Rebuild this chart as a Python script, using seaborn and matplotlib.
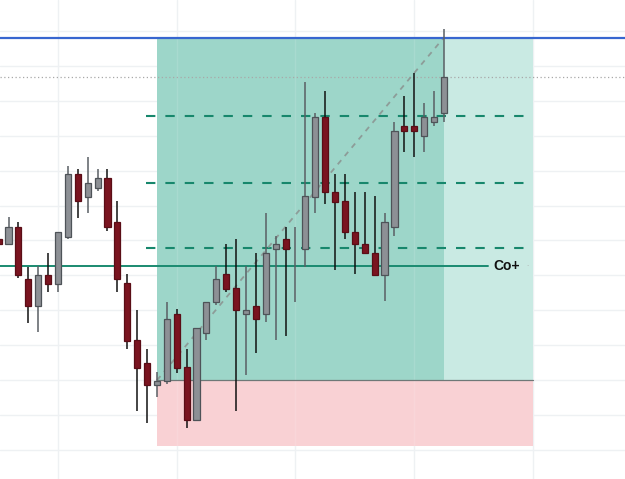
import matplotlib
matplotlib.use("Agg")
import matplotlib.pyplot as plt
import numpy as np
import pandas as pd
import seaborn as sns

# ---- data (price units) ----
idx = list(range(-1, 45))
opens = [240.7, 235.7, 252.7, 200.7, 174.3, 205, 196, 243.3, 306, 283.3,
         292.3, 301.7, 257.7, 196.7, 140, 117.3, 95, 99.3, 165.7, 112.7,
         60, 147.3, 178.3, 205.7, 191.7, 165.7, 174.3, 165.7, 231, 240.7,
         240, 231, 283.3, 362.7, 287.7, 279, 248.3, 236.3, 227.3, 205,
         252.7, 354, 354, 344.3, 358.3, 367.3]
closes = [235.7, 252.7, 205, 174.3, 205, 196, 248.3, 306, 279, 296.7,
          301.7, 252.7, 200.7, 139.3, 112.3, 95, 99.3, 161, 112.3, 60,
          152.3, 178.3, 200.7, 191, 170, 170, 160.7, 226.7, 236, 231,
          240, 284, 362.7, 287.7, 278.3, 248.3, 235.7, 226.7, 205, 257.7,
          349.3, 349, 349, 362.7, 362.7, 402.7]
highs = [244, 262.7, 257.7, 213.3, 214, 226.7, 248.3, 314.3, 311, 323.3,
         311, 311, 279.3, 205.7, 170, 130.7, 108.3, 178.3, 170.7, 130.7,
         152.3, 178.3, 214, 236, 240.7, 214, 226.7, 266.7, 244.3, 253.3,
         253.3, 398.3, 367.3, 389.3, 306, 306, 288.3, 288.3, 284, 266.7,
         358.3, 384.3, 407.3, 376.7, 389.3, 450.7]
lows = [233, 235.7, 201.7, 157.3, 148.3, 187.7, 187.7, 240.7, 262.3, 266.7,
        289, 249, 187.7, 131, 69.3, 56.7, 82.7, 96, 106.7, 51.7,
        60, 140, 175, 187.7, 69.3, 105, 126.7, 157.7, 140, 144.3,
        178.3, 213.3, 266.7, 275.7, 210, 240.7, 206, 226.7, 205, 179,
        244.3, 328.3, 323.3, 328.3, 354, 358.3]

blue_level = 442.5
dotted_level = 402.7
target_levels = [364.5, 297.5, 232.2]
entry_level = 213.7
stop_split = 99.7
stop_level = 34.0
label_text = "Co+"

df = pd.DataFrame({"i": idx, "open": opens, "close": closes,
                   "high": highs, "low": lows})

# ---- figure ----
sns.set_theme(style="white")
fig = plt.figure(figsize=(6.25, 4.79), dpi=100)
ax = fig.add_axes([0, 0, 1, 1])
ax.set_xlim(-0.861, 62.30)
ax.set_ylim(1, 480)
for s in ax.spines.values():
    s.set_visible(False)

grid_c = "#eef1f3"
for gx in [5, 17, 29, 41, 53]:
    ax.axvline(gx, color=grid_c, lw=1, zorder=0.5)
for k in range(13):
    ax.axhline(480 - (31 + 34.9 * k), color=grid_c, lw=1, zorder=0.5)

# position boxes
x0, xm, x1 = 15, 44, 53
ax.add_patch(plt.Rectangle((x0, stop_split), xm - x0, blue_level - stop_split,
                           facecolor="#9dd6c9", edgecolor="none", zorder=1))
ax.add_patch(plt.Rectangle((xm, stop_split), x1 - xm, blue_level - stop_split,
                           facecolor="#c9eae3", edgecolor="none", zorder=1))
ax.add_patch(plt.Rectangle((x0, stop_level), x1 - x0, stop_split - stop_level,
                           facecolor="#f9d1d4", edgecolor="none", zorder=1))
for gx in [17, 29, 41]:
    ax.plot([gx, gx], [stop_level, blue_level], color="white", alpha=0.12,
            lw=1, zorder=1.1)
ax.plot([x0, x1], [stop_split, stop_split], color="#6f7877", lw=0.9, zorder=2)

# levels
ax.axhline(blue_level, color="#3766cf", lw=1.6, zorder=3)
ax.axhline(dotted_level, color="#a8a8a8", lw=0.9, ls=(0, (1, 2)), zorder=2)
for lv in target_levels:
    ax.plot([13.9, x1], [lv, lv], color="#17876c", lw=1.5,
            ls=(0, (4.5, 4.8)), zorder=2)
ax.plot([-1, 48.45], [entry_level, entry_level], color="#1a8a70", lw=1.4,
        zorder=2)
ax.text(48.95, entry_level, label_text, fontsize=10, fontweight="bold",
        color="#111111", va="center", ha="left", zorder=5,
        family="Liberation Sans")
ax.text(52.4, entry_level, "·", fontsize=5, color="#aaaaaa", va="center",
        ha="center", zorder=5)

# diagonal trend line
diag = pd.DataFrame({"x": [x0, xm], "y": [stop_split, blue_level]})
sns.lineplot(data=diag, x="x", y="y", ax=ax, color="#8d9c98", lw=1.3,
             zorder=2)
ax.lines[-1].set_linestyle((0, (3, 3)))
ax.set_xlabel("")
ax.set_ylabel("")
ax.set_xticks([])
ax.set_yticks([])

# candles
up = df["close"] >= df["open"]
gray_body, gray_edge, gray_wick = "#8d9095", "#4e5358", "#5a5f64"
red_body, red_edge, red_wick = "#7a1420", "#5a0d16", "#111111"
ax.vlines(df.loc[up, "i"], df.loc[up, "low"], df.loc[up, "high"],
          color=gray_wick, lw=1.1, zorder=4)
ax.vlines(df.loc[~up, "i"], df.loc[~up, "low"], df.loc[~up, "high"],
          color=red_wick, lw=1.1, zorder=4)
body = df[df["close"] != df["open"]]
bup = body["close"] > body["open"]
ax.bar(body.loc[bup, "i"], (body.loc[bup, "close"] - body.loc[bup, "open"]),
       bottom=body.loc[bup, "open"], width=0.62, color=gray_body,
       edgecolor=gray_edge, linewidth=0.9, zorder=5)
ax.bar(body.loc[~bup, "i"], (body.loc[~bup, "open"] - body.loc[~bup, "close"]),
       bottom=body.loc[~bup, "close"], width=0.62, color=red_body,
       edgecolor=red_edge, linewidth=0.9, zorder=5)

fig.savefig("out.png", dpi=100)
